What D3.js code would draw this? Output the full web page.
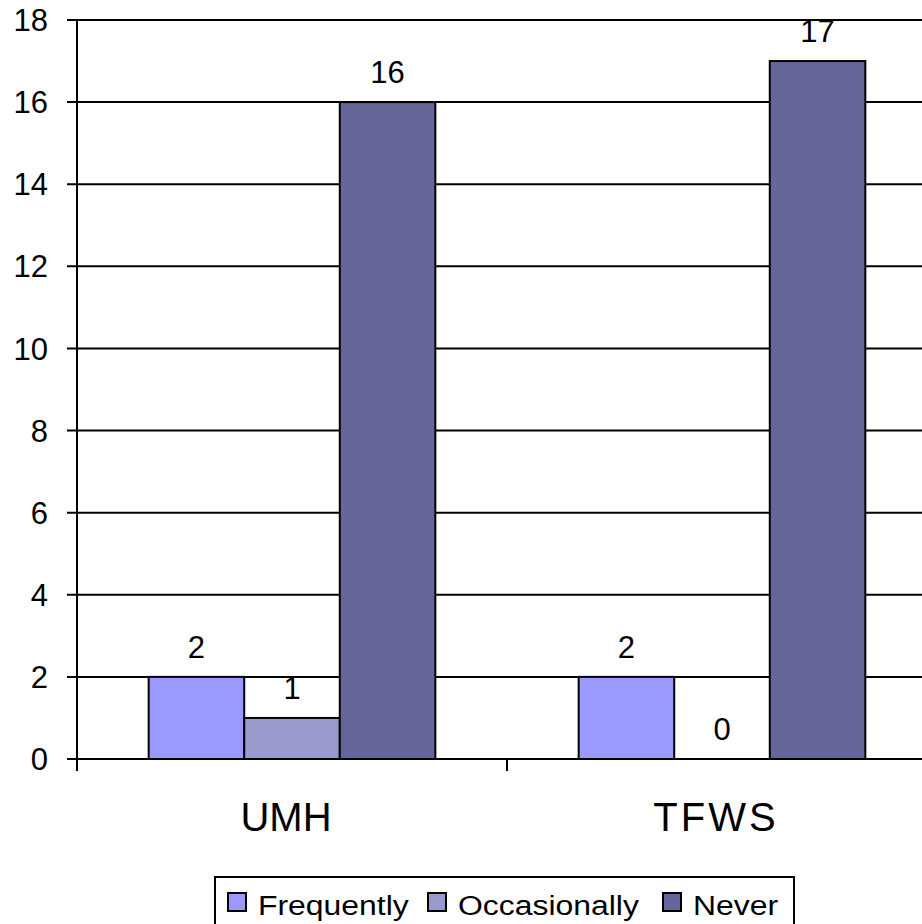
<!DOCTYPE html>
<html><head><meta charset="utf-8">
<script src="https://cdn.jsdelivr.net/npm/d3@7/dist/d3.min.js"></script>
<style>body{margin:0;background:#fff}svg{display:block}text{font-family:"Liberation Sans",Arial,sans-serif;fill:#000}</style>
</head><body><div id="chart"></div>
<script>
const categories = ["UMH", "TFWS"];
const seriesNames = ["Frequently", "Occasionally", "Never"];
const frequently = [2, 2];
const occasionally = [1, 0];
const never = [16, 17];
const yTicks = [0, 2, 4, 6, 8, 10, 12, 14, 16, 18];
const colors = ["#9999FF", "#9999CC", "#666699"];
const seriesValues = [frequently, occasionally, never];

const W = 922, H = 924;
const mLeft = 77, mRight = 937, mTop = 20, mBottom = 759;
const svg = d3.select("#chart").append("svg").attr("width", W).attr("height", H);

const y = d3.scaleLinear().domain([0, 18]).range([mBottom, mTop]);
const x0 = d3.scaleBand().domain(categories).range([mLeft, mRight]).paddingInner(0).paddingOuter(0);
const bw = x0.bandwidth() / 4.5;
const x1 = d3.scaleBand().domain(seriesNames).range([0.75 * bw, 3.75 * bw]);

// gridlines
svg.append("g").selectAll("line").data(yTicks).join("line")
  .attr("x1", mLeft - 10).attr("x2", mRight).attr("y1", d => y(d)).attr("y2", d => y(d))
  .attr("stroke", "#000").attr("stroke-width", 2);

// y tick labels
svg.append("g").selectAll("text").data(yTicks).join("text")
  .attr("x", 48).attr("y", d => y(d)).attr("dy", "0.36em").attr("text-anchor", "end")
  .attr("font-size", 31).text(d => d);

// bars
const groups = svg.append("g").selectAll("g").data(categories).join("g")
  .attr("transform", c => `translate(${x0(c)},0)`);
groups.selectAll("rect").data((c, i) => seriesNames.map((s, j) => ({s, j, v: seriesValues[j][i]})))
  .join("rect")
  .attr("x", d => x1(d.s)).attr("width", x1.bandwidth())
  .attr("y", d => y(d.v)).attr("height", d => y(0) - y(d.v))
  .attr("fill", d => colors[d.j]).attr("stroke", "#000").attr("stroke-width", d => d.v > 0 ? 2 : 0);
groups.selectAll("text").data((c, i) => seriesNames.map((s, j) => ({s, j, v: seriesValues[j][i]})))
  .join("text")
  .attr("x", d => x1(d.s) + x1.bandwidth() / 2).attr("y", d => y(d.v) - 19)
  .attr("text-anchor", "middle").attr("font-size", 31).text(d => d.v);

// axes lines
svg.append("line").attr("x1", mLeft).attr("x2", mLeft).attr("y1", mTop).attr("y2", mBottom + 12)
  .attr("stroke", "#000").attr("stroke-width", 2);
svg.append("line").attr("x1", mLeft - 10).attr("x2", mRight).attr("y1", mBottom).attr("y2", mBottom)
  .attr("stroke", "#000").attr("stroke-width", 2);
const xt = categories.map(c => x0(c)).concat([mRight]);
svg.append("g").selectAll("line").data(xt).join("line")
  .attr("x1", d => d).attr("x2", d => d).attr("y1", mBottom).attr("y2", mBottom + 12)
  .attr("stroke", "#000").attr("stroke-width", 2);

// category labels
svg.append("g").selectAll("text").data(categories).join("text")
  .attr("x", c => x0(c) + x0.bandwidth() / 2 - 6).attr("y", 831)
  .attr("text-anchor", "middle").attr("font-size", 40)
  .attr("letter-spacing", (c, i) => i === 1 ? 3 : 0).text(c => c);

// legend
const lg = svg.append("g");
lg.append("rect").attr("x", 215).attr("y", 877).attr("width", 579).attr("height", 70)
  .attr("fill", "#fff").attr("stroke", "#000").attr("stroke-width", 2);
const itemX = [228, 428, 663];
seriesNames.forEach((s, j) => {
  lg.append("rect").attr("x", itemX[j]).attr("y", 893).attr("width", 18).attr("height", 18)
    .attr("fill", colors[j]).attr("stroke", "#000").attr("stroke-width", 2);
  lg.append("text").attr("transform", `translate(${itemX[j] + 30},915) scale(1.14,1)`)
    .attr("font-size", 28).text(s);
});
</script></body></html>
